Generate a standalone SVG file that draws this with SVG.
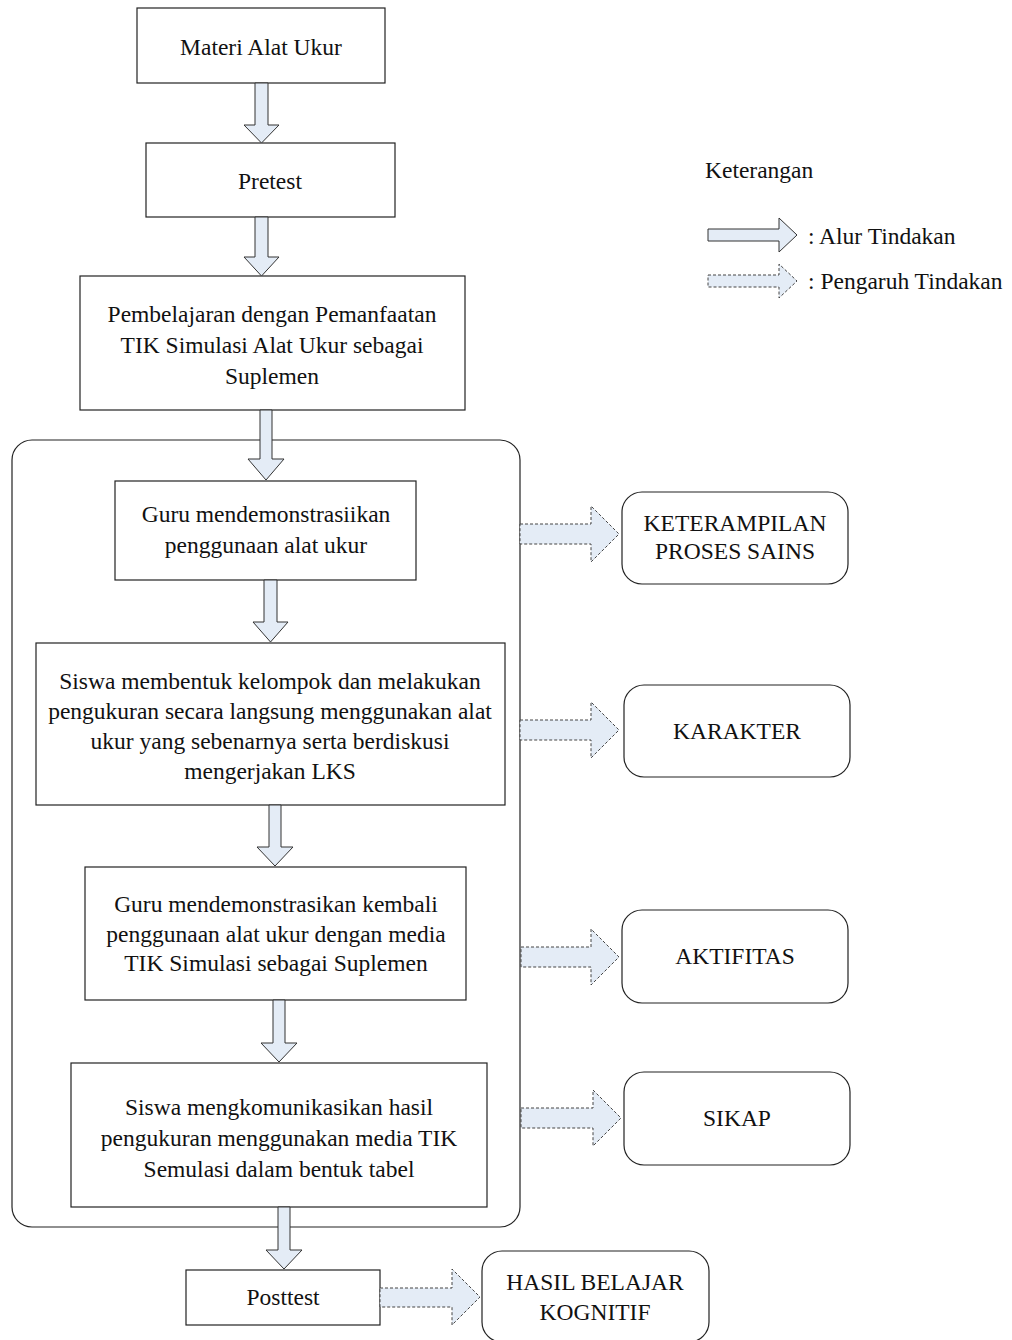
<svg xmlns="http://www.w3.org/2000/svg" width="1012" height="1340" viewBox="0 0 1012 1340">
<style>
.box{fill:#fff;stroke:#222;stroke-width:1.2}
.rbox{fill:#fff;stroke:#222;stroke-width:1.2}
.t{font-family:"Liberation Serif","Times New Roman",serif;font-size:23.5px;fill:#111;text-anchor:middle}
.tl{font-family:"Liberation Serif","Times New Roman",serif;font-size:23.5px;fill:#111}
.sa{fill:#E4ECF6;stroke:#333;stroke-width:1}
.da{fill:#E4ECF6;stroke:#444;stroke-width:1;stroke-dasharray:3 2}
</style>
<rect width="1012" height="1340" fill="#fff"/>
<g id="container"><rect class="rbox" x="12" y="440" width="508" height="787" rx="20"/></g>
<g id="n1"><rect class="box" x="137" y="8" width="248" height="75"/><text class="t" x="261" y="55">Materi Alat Ukur</text></g>
<g id="n2"><rect class="box" x="146" y="143" width="249" height="74"/><text class="t" x="270" y="189">Pretest</text></g>
<g id="n3"><rect class="box" x="80" y="276" width="385" height="134"/>
<text class="t" x="272" y="322">Pembelajaran dengan Pemanfaatan</text>
<text class="t" x="272" y="353">TIK Simulasi Alat Ukur sebagai</text>
<text class="t" x="272" y="384">Suplemen</text></g>
<g id="n4"><rect class="box" x="115" y="481" width="301" height="99"/>
<text class="t" x="266" y="522">Guru mendemonstrasiikan</text>
<text class="t" x="266" y="553">penggunaan alat ukur</text></g>
<g id="n5"><rect class="box" x="36" y="643" width="469" height="162"/>
<text class="t" x="270" y="689">Siswa membentuk kelompok dan melakukan</text>
<text class="t" x="270" y="719">pengukuran secara langsung menggunakan alat</text>
<text class="t" x="270" y="749">ukur yang sebenarnya serta berdiskusi</text>
<text class="t" x="270" y="779">mengerjakan LKS</text></g>
<g id="n6"><rect class="box" x="85" y="867" width="381" height="133"/>
<text class="t" x="276" y="912">Guru mendemonstrasikan kembali</text>
<text class="t" x="276" y="942">penggunaan alat ukur dengan media</text>
<text class="t" x="276" y="971">TIK Simulasi sebagai Suplemen</text></g>
<g id="n7"><rect class="box" x="71" y="1063" width="416" height="144"/>
<text class="t" x="279" y="1115">Siswa mengkomunikasikan hasil</text>
<text class="t" x="279" y="1146">pengukuran menggunakan media TIK</text>
<text class="t" x="279" y="1177">Semulasi dalam bentuk tabel</text></g>
<g id="n8"><rect class="box" x="186" y="1270" width="194" height="55"/><text class="t" x="283" y="1305">Posttest</text></g>
<g id="r1"><rect class="rbox" x="622" y="492" width="226" height="92" rx="20"/>
<text class="t" x="735" y="531">KETERAMPILAN</text><text class="t" x="735" y="559">PROSES SAINS</text></g>
<g id="r2"><rect class="rbox" x="624" y="685" width="226" height="92" rx="20"/><text class="t" x="737" y="739">KARAKTER</text></g>
<g id="r3"><rect class="rbox" x="622" y="910" width="226" height="93" rx="20"/><text class="t" x="735" y="964">AKTIFITAS</text></g>
<g id="r4"><rect class="rbox" x="624" y="1072" width="226" height="93" rx="20"/><text class="t" x="737" y="1126">SIKAP</text></g>
<g id="r5"><rect class="rbox" x="482" y="1251" width="227" height="91" rx="20"/>
<text class="t" x="595" y="1290">HASIL BELAJAR</text><text class="t" x="595" y="1320">KOGNITIF</text></g>
<g id="legend">
<text class="tl" x="705" y="178">Keterangan</text>
<path class="sa" d="M708,229 L779,229 L779,218 L797,235 L779,252 L779,241 L708,241 Z"/>
<text class="tl" x="808" y="244">: Alur Tindakan</text>
<path class="da" d="M708,275 L779,275 L779,264 L797,281 L779,298 L779,287 L708,287 Z"/>
<text class="tl" x="808" y="289">: Pengaruh Tindakan</text>
</g>
<g id="connectors">
<path class="sa" d="M255,83 L268,83 L268,125 L279,125 L261.5,143 L244,125 L255,125 Z"/>
<path class="sa" d="M255,217 L268,217 L268,257 L279,257 L261.5,276 L244,257 L255,257 Z"/>
<path class="sa" d="M260,410 L272,410 L272,459 L284,459 L266,480 L248,459 L260,459 Z"/>
<path class="sa" d="M264,580 L277,580 L277,622 L288,622 L270.5,642 L253,622 L264,622 Z"/>
<path class="sa" d="M269,805 L281,805 L281,847 L293,847 L275,866 L257,847 L269,847 Z"/>
<path class="sa" d="M273,1000 L285,1000 L285,1043 L297,1043 L279,1062 L261,1043 L273,1043 Z"/>
<path class="sa" d="M278,1207 L290,1207 L290,1250 L302,1250 L284,1269 L266,1250 L278,1250 Z"/>
<path class="da" d="M520,524 L591,524 L591,506 L619,534 L591,562 L591,544 L520,544 Z"/>
<path class="da" d="M520,720 L591,720 L591,702 L619,730 L591,758 L591,740 L520,740 Z"/>
<path class="da" d="M521,947 L591,947 L591,929 L619,957 L591,985 L591,967 L521,967 Z"/>
<path class="da" d="M521,1108 L593,1108 L593,1090 L621,1118 L593,1146 L593,1128 L521,1128 Z"/>
<path class="da" d="M380,1288 L452,1288 L452,1269 L480,1297 L452,1325 L452,1307 L380,1307 Z"/>
</g>
</svg>
